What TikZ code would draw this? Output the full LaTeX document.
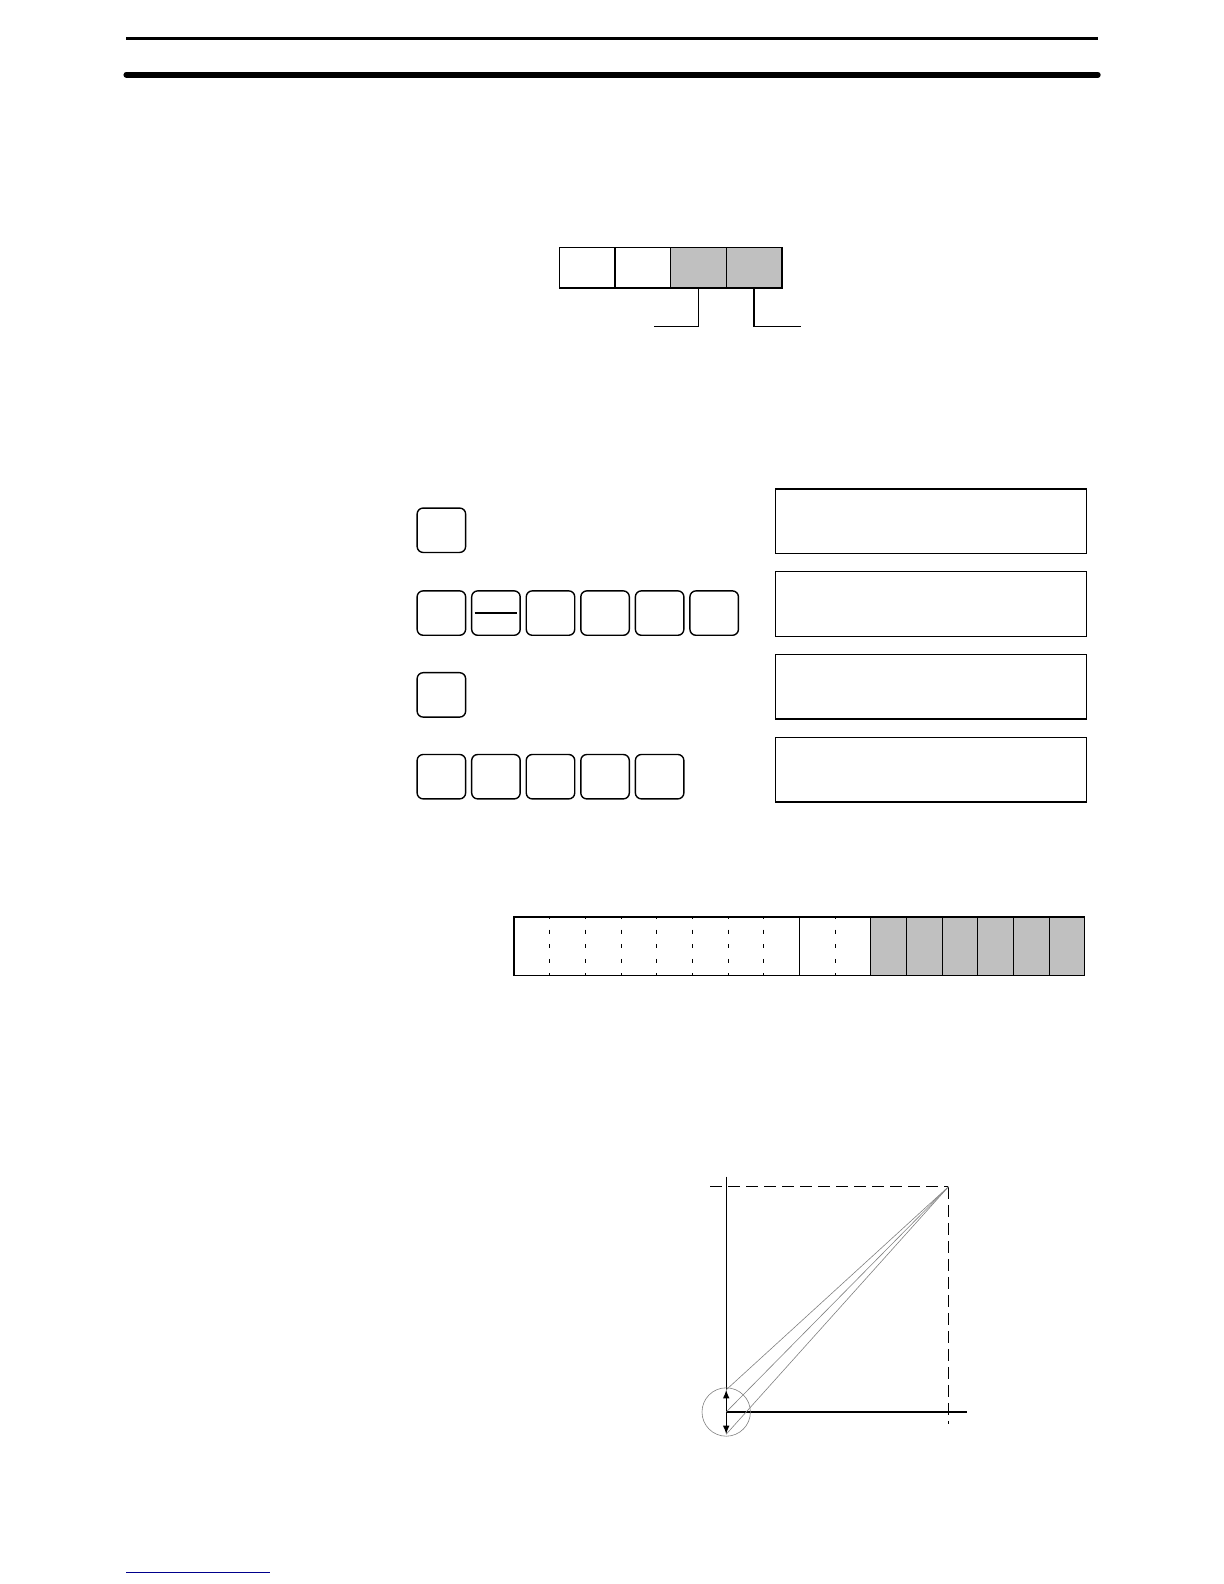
\documentclass[tikz,border=0pt]{standalone}
\usepackage{tikz}
\usetikzlibrary{positioning}
\usetikzlibrary{arrows}
\usetikzlibrary{calc}
\definecolor{cellgray}{RGB}{192,192,192}
\definecolor{linkblue}{RGB}{0,0,140}
\tikzset{x=0.505pt, y=-0.505pt,
every node/.style={ % No text, so no padding
inner sep=0pt,
outer sep=0pt},
cell/.style={draw, line width=0.7pt, minimum width=27.8pt, minimum height=20.2pt},
key/.style={draw, line width=0.7pt, rounded corners=3pt, minimum width=24.25pt, minimum height=22.2pt},
display/.style={draw, line width=0.7pt, minimum width=155.5pt, minimum height=32.3pt},
word/.style={minimum width=285.3pt, minimum height=29.3pt},
bitdash/.style={line width=0.4pt, dash pattern=on 2pt off 5.3pt, dash phase=1pt},
guide/.style={line width=0.7pt, dash pattern=on 6pt off 3pt},
ray/.style={gray, line width=0.3pt}}

\begin{document}
\begin{tikzpicture}
\useasboundingbox (0pt,0pt) rectangle (612pt,-792pt);
% page rules
\draw[line width=1.25pt] (125,38) -- (1087,38);
\draw[line width=2.8pt, line cap=round] (125,74) -- (1087,74);
\draw[linkblue, line width=0.6pt] (125,1557) -- (267,1557);

% four digit register
\node[cell] (r1) at (581.5,265) {};
\node[cell, right=0pt of r1] (r2) {};
\node[cell, fill=cellgray, right=0pt of r2] (r3) {};
\node[cell, fill=cellgray, right=0pt of r3] (r4) {};
\coordinate (l1) at (648,323);
\coordinate (l2) at (793,323);
\draw[line width=0.7pt] (r3.south) |- (l1);
\draw[line width=0.7pt] (r4.south) |- (l2);

% key sequences
\node[key] (k11) at (437,525) {};
\node[key] (k21) at (437,607) {};
\foreach \i [count=\j from 2] in {1,...,5}
  \node[key, right=3.03pt of k2\i] (k2\j) {};
\draw[line width=0.7pt] ([xshift=1.5pt]k22.west) -- ([xshift=-1.5pt]k22.east);
\node[key] (k31) at (437,688) {};
\node[key] (k41) at (437,769) {};
\foreach \i [count=\j from 2] in {1,...,4}
  \node[key, right=3.03pt of k4\i] (k4\j) {};

% displays
\node[display] (d1) at (922,516) {};
\node[display, below=9.1pt of d1] (d2) {};
\node[display, below=9.1pt of d2] (d3) {};
\node[display, below=9.1pt of d3] (d4) {};

% sixteen bit word
\node[word] (w) at (791.5,937) {};
\fill[cellgray] ($(w.north west)!10/16!(w.north east)$) rectangle (w.south east);
\foreach \i in {1,...,7,9}
  \draw[bitdash] ($(w.north west)!\i/16!(w.north east)$) -- ($(w.south west)!\i/16!(w.south east)$);
\foreach \i in {8,10,11,...,15}
  \draw[line width=0.5pt] ($(w.north west)!\i/16!(w.north east)$) -- ($(w.south west)!\i/16!(w.south east)$);
\draw[line width=0.7pt] (w.north west) rectangle (w.south east);

% graph
\coordinate (O) at (719,1398);
\coordinate (ytop) at (719,1165);
\coordinate (xend) at (957,1398);
\coordinate (P) at (939,1175);
\coordinate (hl) at (703,1175);
\coordinate (vb) at (939,1410);
\coordinate (A) at (719,1376);
\coordinate (B) at (719,1420);
\draw[guide] (hl) -- (P);
\draw[guide] (P) -- (vb);
\draw[line width=0.7pt] (ytop) -- (A);
\draw[line width=0.7pt] (O) -- (xend);
\draw[latex-latex, line width=0.5pt] (A) -- (B);
\draw[ray] (P) -- (A);
\draw[ray] (P) -- (O);
\draw[ray] (P) -- (B);
\draw[ray] (O) circle (12.1pt);
\end{tikzpicture}
\end{document}
